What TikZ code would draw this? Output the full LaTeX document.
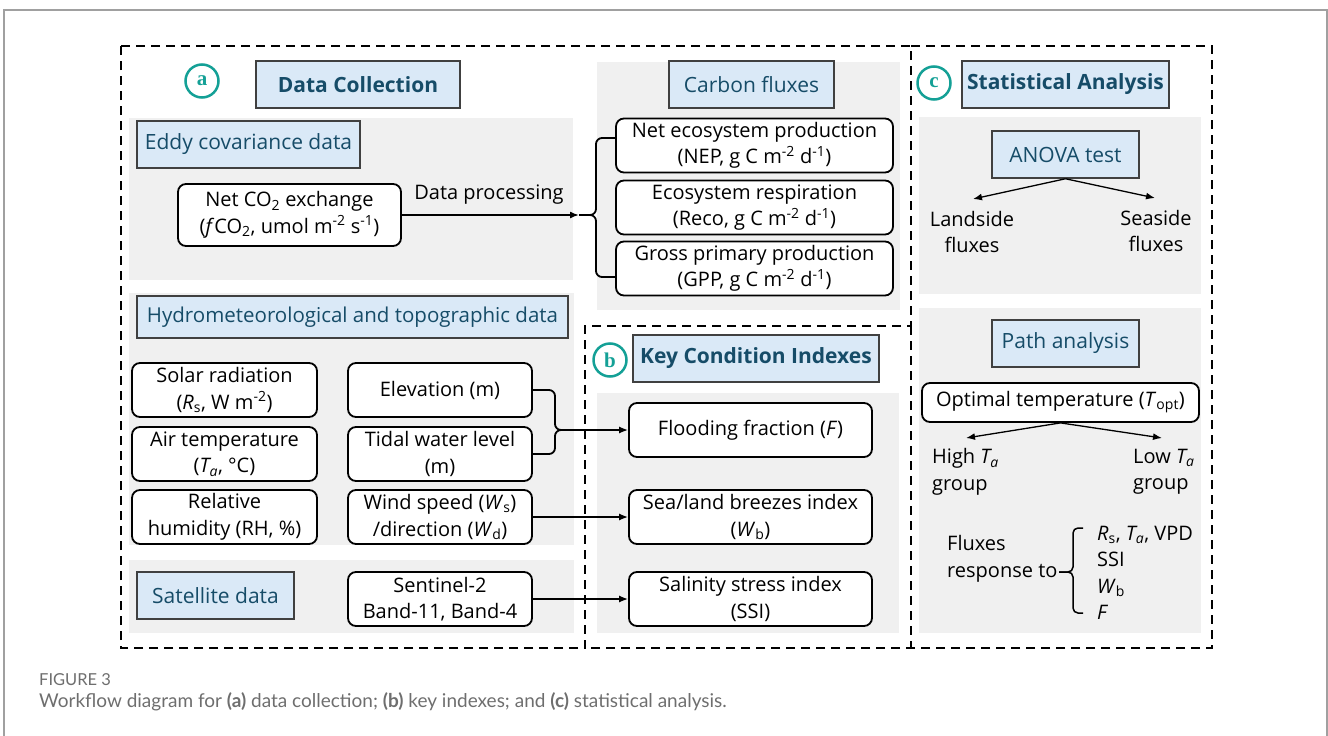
\documentclass[tikz,border=0pt]{standalone}
\usepackage{fontspec}
\setmainfont{Open Sans}
\newfontfamily\capfont{Lato}
\newfontfamily\letfont{Liberation Serif}
\usetikzlibrary{arrows.meta,calc}
\definecolor{panel}{RGB}{240,240,240}
\definecolor{hfill}{RGB}{218,233,247}
\definecolor{htext}{RGB}{22,76,104}
\definecolor{teal1}{RGB}{20,160,150}
\definecolor{framegray}{RGB}{160,160,160}
\definecolor{capgray}{RGB}{110,110,110}
\begin{document}
\begin{tikzpicture}[x=1pt,y=-1pt,
 rbox/.style={draw=black, line width=1.8pt, rounded corners=8pt, fill=white, align=center, inner sep=0pt, minimum height=54pt, font=\fontsize{20}{26.5}\selectfont},
 hdr/.style={draw=black!75, line width=1.5pt, fill=hfill, text=htext, inner sep=0pt, minimum height=47pt, font=\fontsize{21}{25}\selectfont},
 hdrb/.style={hdr, font=\fontsize{21}{25}\selectfont\bfseries},
 pan/.style={fill=panel, draw=none},
 dbox/.style={dash pattern=on 9pt off 6pt, line width=1.8pt},
 circ/.style={circle, draw=teal1, line width=2.5pt, minimum size=33pt, inner sep=0pt, text=teal1, font=\fontsize{21}{21}\letfont\bfseries},
 arr/.style={-{Latex[length=9pt,width=7pt]}, line width=1.5pt},
 brc/.style={line width=1.8pt, rounded corners=6pt},
 txt/.style={font=\fontsize{20}{26.5}\selectfont, inner sep=0pt}
]
\useasboundingbox (0,0) rectangle (1328,736);
% outer frame
\draw[framegray, line width=1.2pt] (4,745) -- (4,10) -- (1327,10) -- (1327,745);
% panels
\fill[panel] (129,118) rectangle (573,280);
\fill[panel] (597,62) rectangle (900,310);
\fill[panel] (129,293) rectangle (574,545);
\fill[panel] (129,560) rectangle (574,633);
\fill[panel] (597,393) rectangle (899,633);
\fill[panel] (919,117) rectangle (1201,294);
\fill[panel] (919,308) rectangle (1201,633);
% dashed outlines
\draw[dbox] (121,46) -- (911,46) -- (911,326) -- (585,326) -- (585,648) -- (121,648) -- cycle;
\draw[dbox] (911,46) -- (1212,46) -- (1212,648) -- (585,648);
\draw[dbox] (911,326) -- (911,648);
% circles
\node[circ] (ca) at (202,81) {a};
\node[circ] (cb) at (610,360) {b};
\node[circ] (cc) at (934,83) {c};
% headers
\node[hdrb, minimum width=204pt] (hDC) at (358,84.5) {Data Collection};
\node[hdr, minimum width=223pt] (hEddy) at (248.5,144.5) {Eddy covariance data};
\node[hdr, minimum width=165pt] (hCF) at (751.5,84.5) {Carbon fluxes};
\node[hdr, minimum width=431pt, minimum height=42pt, font=\fontsize{20.5}{25}\selectfont] (hHyd) at (352.5,317) {Hydrometeorological and topographic data};
\node[hdr, minimum width=157pt] (hSat) at (215.5,595.5) {Satellite data};
\node[hdrb, minimum width=246pt] (hKCI) at (756,358.5) {Key Condition Indexes};
\node[hdrb, minimum width=207pt] (hSA) at (1065.5,84.5) {Statistical Analysis};
\node[hdr, minimum width=147pt] (hANOVA) at (1065.5,154.5) {ANOVA test};
\node[hdr, minimum width=147pt] (hPath) at (1065.5,343.5) {Path analysis};
% boxes
\node[rbox, minimum width=223pt, minimum height=62pt] (co2) at (289.5,215) {Net CO\textsubscript{2} exchange\\(\textit{f}CO\textsubscript{2}, umol m\textsuperscript{-2} s\textsuperscript{-1})};
\node[rbox, minimum width=277pt] (nep) at (754.5,145.5) {Net ecosystem production\\(NEP, g C m\textsuperscript{-2} d\textsuperscript{-1})};
\node[rbox, minimum width=277pt] (reco) at (754.5,207.5) {Ecosystem respiration\\(Reco, g C m\textsuperscript{-2} d\textsuperscript{-1})};
\node[rbox, minimum width=277pt] (gpp) at (754.5,268.5) {Gross primary production\\(GPP, g C m\textsuperscript{-2} d\textsuperscript{-1})};
\node[rbox, minimum width=185pt] (solar) at (224.5,390) {Solar radiation\\(\textit{R}\textsubscript{s}, W m\textsuperscript{-2})};
\node[rbox, minimum width=185pt] (air) at (224.5,454) {Air temperature\\(\textit{T\textsubscript{a}}, °C)};
\node[rbox, minimum width=185pt] (rh) at (224.5,517) {Relative\\humidity (RH, \%)};
\node[rbox, minimum width=184pt] (elev) at (440,390) {Elevation (m)};
\node[rbox, minimum width=184pt] (tidal) at (440,454) {Tidal water level\\(m)};
\node[rbox, minimum width=184pt] (wind) at (440,517) {Wind speed (\textit{W}\textsubscript{s})\\/direction (\textit{W}\textsubscript{d})};
\node[rbox, minimum width=184pt] (sent) at (440,599) {Sentinel-2\\Band-11, Band-4};
\node[rbox, minimum width=243pt] (flood) at (750.5,430) {Flooding fraction (\textit{F})};
\node[rbox, minimum width=243pt] (sea) at (750.5,517) {Sea/land breezes index\\(\textit{W}\textsubscript{b})};
\node[rbox, minimum width=243pt] (sal) at (750.5,599) {Salinity stress index\\(SSI)};
\node[rbox, minimum width=277pt, minimum height=39pt] (topt) at (1060.5,402.5) {Optimal temperature (\textit{T}\textsubscript{opt})};
% free texts
\node[txt] (dp) at (489,195) {Data processing};
\node[txt, align=center] (land) at (972,232) {Landside\\fluxes};
\node[txt, align=center] (seas) at (1156,231) {Seaside\\fluxes};
\node[txt, align=left, anchor=west] (high) at (932,472) {High \textit{T\textsubscript{a}}\\group};
\node[txt, align=left, anchor=west] (low) at (1133,472) {Low \textit{T\textsubscript{a}}\\group};
\node[txt, align=left, anchor=west] (fr) at (947,559) {Fluxes\\response to};
\node[txt, align=left, anchor=west] (lst) at (1097,573) {\textit{R}\textsubscript{s}, \textit{T\textsubscript{a}}, VPD\\SSI\\\textit{W}\textsubscript{b}\\\textit{F}};
% connectors
\coordinate (btip) at (579,215);
\draw[arr] (co2.east) -- (btip);
\draw[brc] (616,138) -- (596,138) -- (596,215) -- (btip);
\draw[brc] (616,277) -- (596,277) -- (596,215) -- (btip);
\coordinate (etip) at (565,430);
\draw[brc] (elev.east) -- (555,390) -- (555,430) -- (etip);
\draw[brc] (tidal.east) -- (555,454) -- (555,430) -- (etip);
\draw[arr] (etip) -- (flood.west);
\draw[arr] (wind.east) -- (sea.west);
\draw[arr] (sent.east) -- (sal.west);
\coordinate (la) at (973,199);
\coordinate (sa) at (1155,198);
\draw[arr, line width=1.3pt] (hANOVA.south) -- (la);
\draw[arr, line width=1.3pt] (hANOVA.south) -- (sa);
\coordinate (ha) at (966,438);
\coordinate (lo) at (1162,438);
\draw[arr, line width=1.3pt] (topt.south) -- (ha);
\draw[arr, line width=1.3pt] (topt.south) -- (lo);
\coordinate (ftip) at (1059,572);
\draw[line width=1.5pt, rounded corners=5pt] (1083,528) -- (1073,528) -- (1073,572) -- (ftip);
\draw[line width=1.5pt, rounded corners=5pt] (1083,613) -- (1073,613) -- (1073,572) -- (ftip);
% caption
\node[anchor=base west, inner sep=0pt, text=capgray, font=\capfont\fontsize{16.5}{20}\selectfont] (fig) at (39,685) {FIGURE 3};
\node[anchor=base west, inner sep=0pt, text=capgray, font=\capfont\fontsize{19}{22}\selectfont] (cap) at (39,707) {Workflow diagram for \textbf{(a)} data collection; \textbf{(b)} key indexes; and \textbf{(c)} statistical analysis.};
\end{tikzpicture}
\end{document}
